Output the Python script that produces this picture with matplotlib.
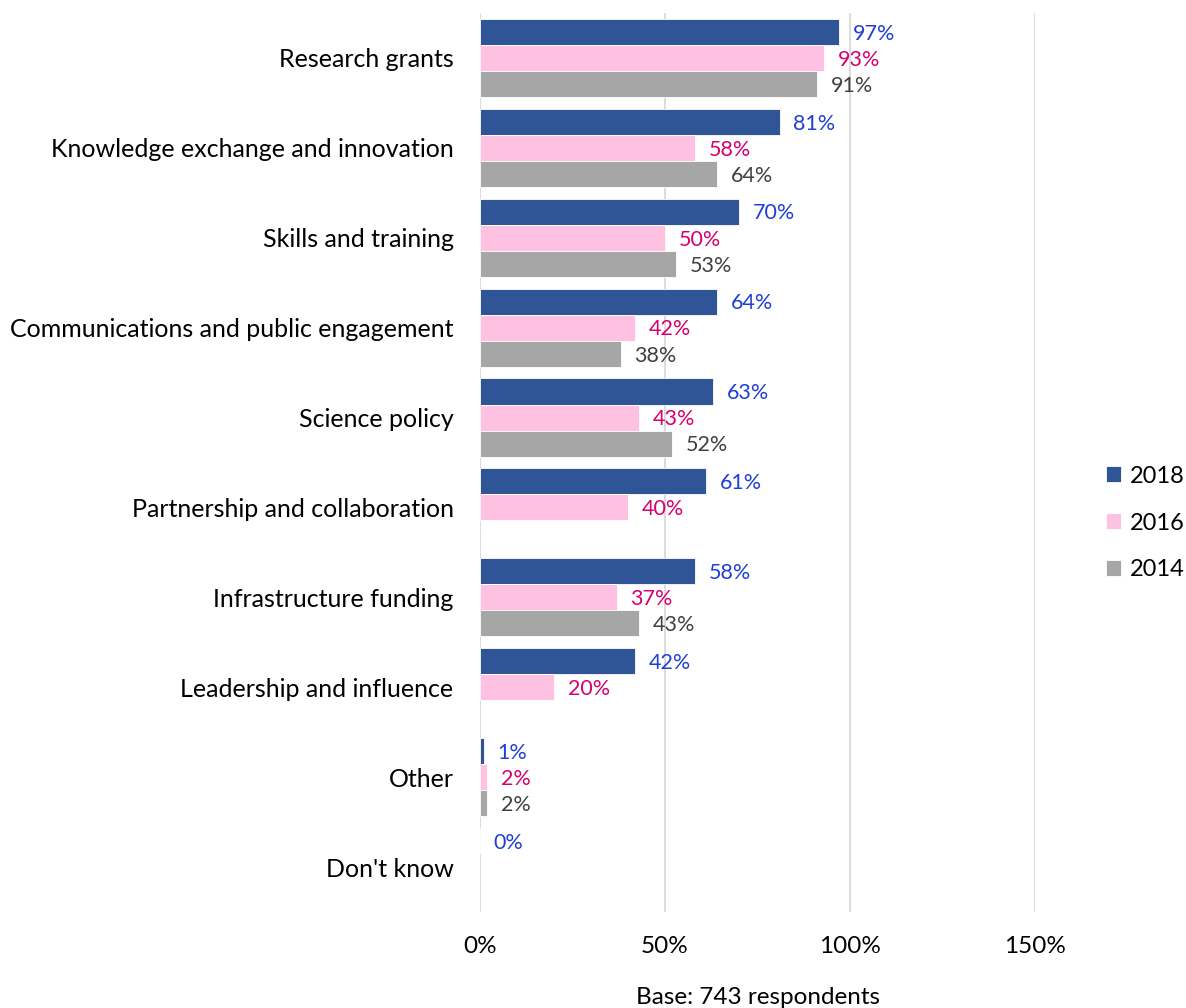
import numpy as np
import matplotlib.pyplot as plt
from matplotlib.ticker import FuncFormatter

plt.rcParams['font.family'] = ['Lato', 'DejaVu Sans']

# Данные опроса (доли, %)
categories = ['Research grants', 'Knowledge exchange and innovation', 'Skills and training',
              'Communications and public engagement', 'Science policy',
              'Partnership and collaboration', 'Infrastructure funding',
              'Leadership and influence', 'Other', "Don't know"]
years = ['2018', '2016', '2014']
vals_2018 = [97, 81, 70, 64, 63, 61, 58, 42, 1, 0]
vals_2016 = [93, 58, 50, 42, 43, 40, 37, 20, 2, None]
vals_2014 = [91, 64, 53, 38, 52, None, 43, None, 2, None]

bar_colors = ['#2F5597', '#FFC1E2', '#A6A6A6']
label_colors = ['#1F3FD6', '#D6006E', '#404040']
fs = 17.5

fig = plt.figure(figsize=(11.86, 10.08), dpi=100)
ax = fig.add_axes([480 / 1186, 1 - 912 / 1008, (1035 - 480) / 1186, (912 - 13) / 1008])

y = np.arange(len(categories))
h = 0.29
series = [vals_2018, vals_2016, vals_2014]
handles = []
for i, (vals, year) in enumerate(zip(series, years)):
    pos = y + (i - 1) * h
    v = np.array([np.nan if x is None else x for x in vals], dtype=float) / 100
    b = ax.barh(pos, v, height=h, color=bar_colors[i], edgecolor='white', linewidth=0.6, label=year)
    handles.append(b)
    for p, val in zip(pos, vals):
        if val is None:
            continue
        ax.text(val / 100 + 0.037, p + 0.02, f'{val}%', color=label_colors[i],
                fontsize=15.5, va='center', ha='left')

ax.set_xlim(0, 1.5)
ax.set_ylim(len(categories) - 0.5, -0.5)
ax.set_xticks([0, 0.5, 1.0, 1.5])
ax.xaxis.set_major_formatter(FuncFormatter(lambda x, _: f'{x * 100:.0f}%'))
ax.set_yticks(y)
ax.set_yticklabels(categories, fontsize=18)
ax.tick_params(axis='x', labelsize=fs)
ax.tick_params(axis='both', length=0)
ax.tick_params(axis='y', pad=19)
ax.tick_params(axis='x', pad=17)
ax.grid(axis='x', color='#D9D9D9', linewidth=1.3)
ax.set_axisbelow(True)
for s in ax.spines.values():
    s.set_visible(False)

ax.set_xlabel('Base: 743 respondents', fontsize=fs)
ax.xaxis.set_label_coords((758 - 480) / (1035 - 480), -0.083)

fig.legend(handles=handles, labels=years, loc='center left',
           bbox_to_anchor=(1106 / 1186, 1 - 523 / 1008),
           frameon=False, fontsize=17, handlelength=0.65, handleheight=0.65,
           labelspacing=1.1, handletextpad=0.35, borderpad=0, borderaxespad=0)

fig.savefig('out.png', dpi=100)
